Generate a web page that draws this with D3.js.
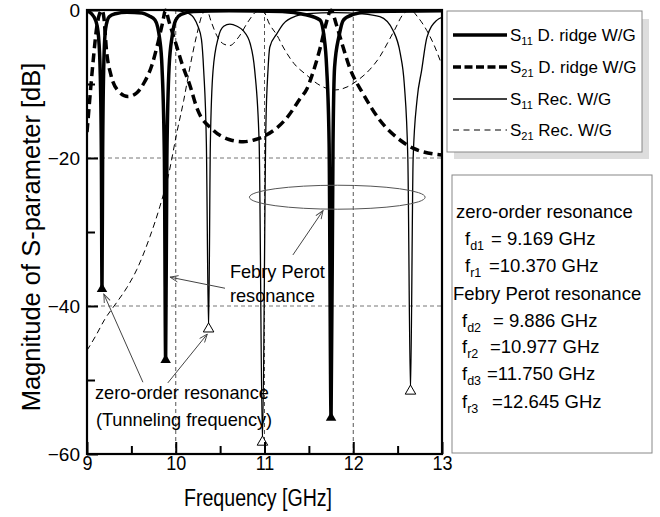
<!DOCTYPE html>
<html><head><meta charset="utf-8">
<script src="https://cdn.jsdelivr.net/npm/d3@7/dist/d3.min.js"></script>
<style>
body{margin:0;background:#fff}
svg{display:block}
text{font-family:"Liberation Sans",Arial,Helvetica,sans-serif;fill:#000}
</style>
</head><body>
<svg id="c" width="660" height="517"></svg>
<script>
// ---------- data (frequency GHz, magnitude dB) ----------
const s11Ridge = [[9.00,-0.1],[9.05,-0.5],[9.10,-1.5],[9.13,-3.6],[9.15,-9],[9.162,-20],[9.169,-37.7],[9.176,-20],[9.19,-7],[9.21,-2.5],[9.25,-0.9],[9.32,-0.5],[9.45,-0.3],[9.62,-0.4],[9.70,-0.8],[9.766,-1.35],[9.82,-4.0],[9.845,-7.7],[9.872,-20],[9.886,-47.3],[9.90,-20],[9.925,-7.7],[9.96,-3.5],[10.00,-1.35],[10.06,-0.6],[10.2,-0.2],[10.6,-0.1],[11.2,-0.2],[11.45,-0.6],[11.625,-1.35],[11.67,-3.5],[11.70,-7.7],[11.728,-18],[11.75,-55.1],[11.772,-18],[11.79,-7.7],[11.84,-3.5],[11.89,-1.35],[12.0,-0.6],[12.2,-0.2],[13.0,-0.1]];
const s21Ridge = [[9.0,-16.5],[9.03,-12.2],[9.07,-6.8],[9.11,-2.3],[9.145,-0.4],[9.169,-0.02],[9.19,-1.0],[9.22,-5.5],[9.27,-8.8],[9.35,-10.9],[9.46,-11.7],[9.55,-11.3],[9.64,-9.9],[9.73,-7.5],[9.80,-4.4],[9.85,-1.8],[9.886,-0.02],[9.92,-1.4],[10.0,-4.5],[10.08,-7.6],[10.16,-10.2],[10.24,-13.3],[10.42,-16.2],[10.6,-17.5],[10.76,-17.8],[10.9,-17.5],[11.02,-16.9],[11.25,-14.6],[11.40,-12],[11.48,-10.6],[11.55,-8.3],[11.63,-5.0],[11.69,-2.0],[11.75,-0.02],[11.81,-2.0],[11.88,-4.8],[11.96,-7.8],[12.11,-11.3],[12.30,-14.9],[12.53,-17.6],[12.68,-18.7],[13.0,-19.6]];
const s11Rect = [[9.0,-0.02],[9.6,-0.02],[9.9,-0.05],[10.05,-0.15],[10.15,-0.5],[10.2,-1.0],[10.25,-2.2],[10.29,-4],[10.315,-8.2],[10.345,-18],[10.37,-43.1],[10.39,-18],[10.42,-8.2],[10.48,-3.7],[10.54,-2.2],[10.61,-1.9],[10.69,-2.2],[10.76,-2.8],[10.84,-4.6],[10.89,-8.2],[10.94,-18],[10.977,-58.4],[11.015,-16],[11.04,-8],[11.06,-5],[11.14,-3.2],[11.21,-1.9],[11.36,-0.8],[11.48,-0.5],[11.8,-0.35],[12.08,-0.5],[12.30,-0.9],[12.45,-2.8],[12.53,-5.9],[12.575,-10],[12.615,-20],[12.645,-51.5],[12.675,-20],[12.72,-12],[12.77,-8.2],[12.83,-3.7],[12.94,-1.4],[13.0,-1.0]];
const s21Rect = [[9.0,-46],[9.1,-44],[9.2,-41.8],[9.33,-39.6],[9.45,-37.5],[9.56,-35.1],[9.71,-30.6],[9.82,-26.6],[9.92,-22.2],[10.01,-16.7],[10.09,-12.2],[10.16,-7.7],[10.24,-3.2],[10.30,-0.6],[10.35,-0.05],[10.40,-1.6],[10.46,-3.4],[10.54,-4.6],[10.61,-4.8],[10.70,-3.8],[10.82,-1.5],[10.90,-0.3],[10.977,-0.02],[11.06,-2.0],[11.14,-3.4],[11.21,-5.0],[11.33,-7.2],[11.475,-8.8],[11.6,-10.0],[11.8,-10.8],[11.93,-10.4],[12.05,-9.5],[12.19,-8.0],[12.3,-6.3],[12.38,-4.6],[12.47,-2.6],[12.56,-0.6],[12.645,-0.02],[12.73,-1.0],[12.83,-2.8],[12.92,-5.0],[13.0,-7.5]];
const ridgeMinima = [[9.169,-37.7],[9.886,-47.3],[11.75,-55.1]];
const rectMinima = [[10.37,-43.1],[10.977,-58.4],[12.645,-51.5]];
const xMajorTicks = [9,10,11,12,13];
const xMinorTicks = [9.5,10.5,11.5,12.5];
const yMajorTicks = [0,-20,-40,-60];
const yMinorTicks = [-10,-30,-50];
const xGrid = [10,11,12];
const yGrid = [-20,-40];
const legendSubs = ["11","21","11","21"];
const legendNames = [" D. ridge W/G"," D. ridge W/G"," Rec. W/G"," Rec. W/G"];
const boxHeads = ["zero-order resonance","Febry Perot resonance"];
const boxSubs = ["d1","r1","d2","r2","d3","r3"];
const boxValues = ["= 9.169 GHz","=10.370 GHz","= 9.886 GHz","=10.977 GHz","=11.750 GHz","=12.645 GHz"];

// ---------- drawing ----------
const svg = d3.select("#c");
const x = d3.scaleLinear().domain([9,13]).range([87,442]);
const y = d3.scaleLinear().domain([-60,0]).range([454,10]);

const defs = svg.append("defs");
defs.append("clipPath").attr("id","plotclip").append("rect")
  .attr("x",x(9)).attr("y",y(0)-3).attr("width",x(13)-x(9)).attr("height",y(-60)-y(0)+3);
defs.append("marker").attr("id","arr").attr("viewBox","-1 -5 11 10")
  .attr("refX",9).attr("refY",0).attr("markerWidth",10).attr("markerHeight",10)
  .attr("markerUnits","userSpaceOnUse").attr("orient","auto")
  .append("path").attr("d","M0,-3.5L9,0L0,3.5").attr("fill","none").attr("stroke","#444").attr("stroke-width",1);

// grid
svg.append("g").selectAll("line").data(xGrid).join("line")
  .attr("x1",d=>x(d)).attr("x2",d=>x(d)).attr("y1",y(0)).attr("y2",y(-60))
  .attr("stroke","#555").attr("stroke-width",1).attr("stroke-dasharray","4,3");
svg.append("g").selectAll("line").data(yGrid).join("line")
  .attr("x1",x(9)).attr("x2",x(13)).attr("y1",d=>y(d)).attr("y2",d=>y(d))
  .attr("stroke","#777").attr("stroke-width",1).attr("stroke-dasharray","4,3");

const line = d3.line().x(d=>x(d[0])).y(d=>y(d[1])).curve(d3.curveMonotoneX);
const plot = svg.append("g").attr("clip-path","url(#plotclip)");
plot.append("path").datum(s21Rect).attr("d",line).attr("fill","none").attr("stroke","#000").attr("stroke-width",1).attr("stroke-dasharray","6,4");
plot.append("path").datum(s11Rect).attr("d",line).attr("fill","none").attr("stroke","#000").attr("stroke-width",1.3);
plot.append("path").datum(s21Ridge).attr("d",line).attr("fill","none").attr("stroke","#000").attr("stroke-width",3.5).attr("stroke-dasharray","9,5");
plot.append("path").datum(s11Ridge).attr("d",line).attr("fill","none").attr("stroke","#000").attr("stroke-width",3.5);

const tri = d3.symbol().type(d3.symbolTriangle).size(48);
svg.append("g").selectAll("path").data(ridgeMinima).join("path")
  .attr("d",tri).attr("transform",d=>`translate(${x(d[0])},${y(d[1])})`).attr("fill","#000");
svg.append("g").selectAll("path").data(rectMinima).join("path")
  .attr("d",tri).attr("transform",d=>`translate(${x(d[0])},${y(d[1])})`).attr("fill","#fff").attr("stroke","#000").attr("stroke-width",1);

// axes
const gx = svg.append("g").attr("transform",`translate(0,${y(-60)})`)
  .call(d3.axisBottom(x).tickValues(xMajorTicks).tickSize(-12).tickFormat(d3.format("d")));
gx.select(".domain").remove();
gx.selectAll("line").attr("stroke-width",2);
gx.selectAll("text").attr("y",0).attr("dy",null).attr("font-size",18)
  .attr("transform","translate(0,16) scale(1,1.17)");
const gx2 = svg.append("g").attr("transform",`translate(0,${y(-60)})`)
  .call(d3.axisBottom(x).tickValues(xMinorTicks).tickSize(-8).tickFormat(""));
gx2.select(".domain").remove(); gx2.selectAll("line").attr("stroke-width",2);

const gy = svg.append("g").attr("transform",`translate(${x(9)},0)`)
  .call(d3.axisLeft(y).tickValues(yMajorTicks).tickSize(-11).tickPadding(7).tickFormat(d3.format("d")));
gy.select(".domain").remove();
gy.selectAll("line").attr("stroke-width",2);
gy.selectAll("text").attr("font-size",19).attr("dy","0.36em");
const gy2 = svg.append("g").attr("transform",`translate(${x(9)},0)`)
  .call(d3.axisLeft(y).tickValues(yMinorTicks).tickSize(-8).tickFormat(""));
gy2.select(".domain").remove(); gy2.selectAll("line").attr("stroke-width",2);

svg.selectAll(".tick text").attr("fill","#000").attr("font-family","Liberation Sans, Arial, sans-serif");

// frame
svg.append("rect").attr("x",x(9)).attr("y",y(0)).attr("width",x(13)-x(9)).attr("height",y(-60)-y(0))
  .attr("fill","none").attr("stroke","#000").attr("stroke-width",2.2);

// axis titles
svg.append("text").attr("transform","translate(258,506) scale(1,1.25)").attr("text-anchor","middle")
  .attr("font-size",19.6).text("Frequency [GHz]");
svg.append("text").attr("transform","translate(40,237) rotate(-90)").attr("text-anchor","middle")
  .attr("font-size",25.5).text("Magnitude of S-parameter [dB]");

// annotations
const ann = svg.append("g");
ann.append("ellipse").attr("cx",x(11.82)).attr("cy",y(-25.3))
  .attr("rx",x(12.81)-x(11.82)).attr("ry",y(-26.92)-y(-25.3))
  .attr("fill","none").attr("stroke","#555").attr("stroke-width",1);
function arrow(f1,d1,f2,d2){
  ann.append("line").attr("x1",x(f1)).attr("y1",y(d1)).attr("x2",x(f2)).attr("y2",y(d2))
    .attr("stroke","#444").attr("stroke-width",1).attr("marker-end","url(#arr)");
}
arrow(11.32,-33.1,11.66,-27.1);
arrow(10.555,-37.6,9.935,-36.1);
arrow(9.63,-50.3,9.19,-38.4);
arrow(9.91,-50.4,10.355,-43.8);
ann.append("text").attr("x",x(10.61)).attr("y",y(-36.2)).attr("font-size",18.2).text("Febry Perot");
ann.append("text").attr("x",x(10.61)).attr("y",y(-39.4)).attr("font-size",18.2).text("resonance");
ann.append("text").attr("x",x(9.09)).attr("y",y(-52.6)).attr("font-size",18.2).text("zero-order resonance");
ann.append("text").attr("x",x(9.1)).attr("y",y(-56.2)).attr("font-size",18.2).text("(Tunneling frequency)");

// legend
const lg = svg.append("g");
lg.append("rect").attr("x",454).attr("y",19).attr("width",195).attr("height",140).attr("fill","#ddd");
lg.append("rect").attr("x",447).attr("y",11).attr("width",195).attr("height",141).attr("fill","#fff").attr("stroke","#888").attr("stroke-width",1);
const legStyles = [{w:3.5,d:null},{w:3.5,d:"8,3.5"},{w:1.3,d:null},{w:1,d:"6,4.5"}];
const legY = [35,67,99,130];
legY.forEach((ly,i)=>{
  lg.append("line").attr("x1",453).attr("x2",507).attr("y1",ly).attr("y2",ly)
    .attr("stroke","#000").attr("stroke-width",legStyles[i].w).attr("stroke-dasharray",legStyles[i].d);
  const t = lg.append("text").attr("x",510).attr("y",ly+6).attr("font-size",17);
  t.append("tspan").text("S");
  t.append("tspan").attr("font-size",11).attr("dy",4).text(legendSubs[i]);
  t.append("tspan").attr("dy",-4).text(legendNames[i]);
});

// result box
const bx = svg.append("g");
bx.append("rect").attr("x",452).attr("y",175).attr("width",200).attr("height",278).attr("fill","#fff").attr("stroke","#888").attr("stroke-width",1);
const fs = 18.5;
bx.append("text").attr("x",456).attr("y",218).attr("font-size",fs).text(boxHeads[0]);
bx.append("text").attr("x",453).attr("y",300).attr("font-size",fs).text(boxHeads[1]);
const rowY = [245,272,327,353,380,408];
const fX = [465,465,462,462,462,462];
const vX = [491,489,493,490,487,492];
rowY.forEach((ry,i)=>{
  const t = bx.append("text").attr("y",ry).attr("font-size",fs);
  t.append("tspan").attr("x",fX[i]).text("f");
  t.append("tspan").attr("font-size",12.5).attr("dy",5).text(boxSubs[i]);
  t.append("tspan").attr("x",vX[i]).attr("dy",-5).text(boxValues[i]);
});
</script>
</body></html>
